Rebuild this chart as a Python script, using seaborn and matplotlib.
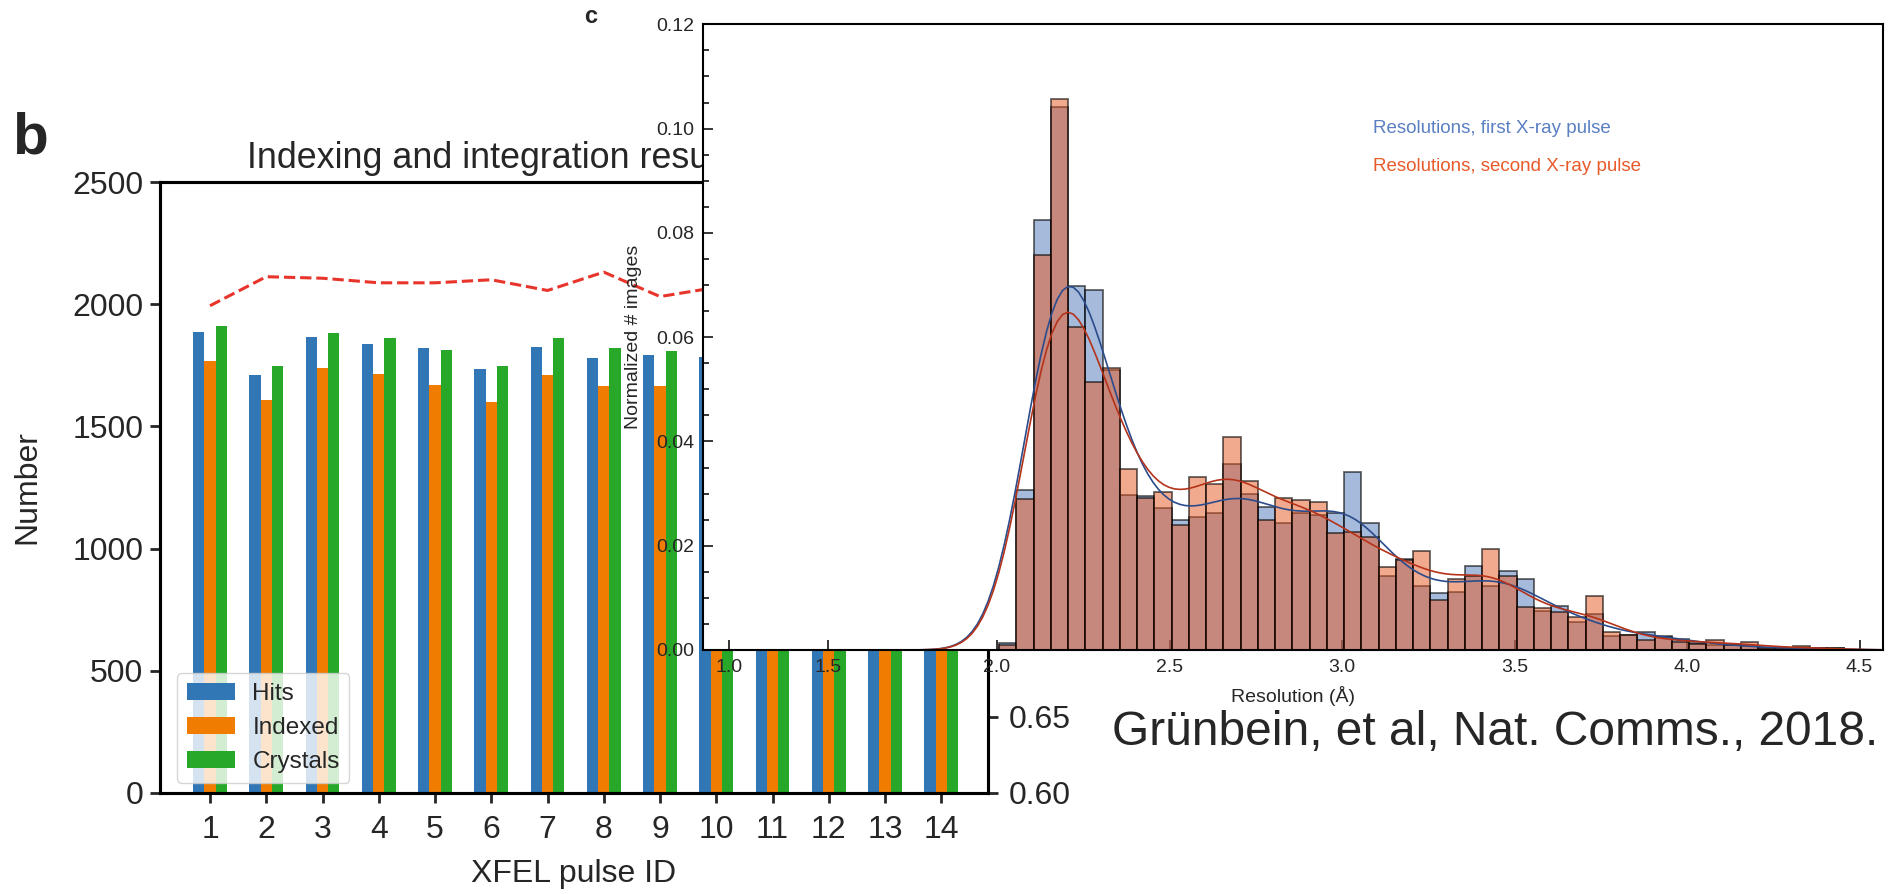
import numpy as np
import pandas as pd
import matplotlib
matplotlib.use("Agg")
import matplotlib.pyplot as plt
import seaborn as sns
from matplotlib.ticker import FixedLocator, FormatStrFormatter, MultipleLocator

# ---------------- data: panel b ----------------
pulse_ids = [1, 2, 3, 4, 5, 6, 7, 8, 9, 10, 11, 12, 13, 14]
hits = [1885, 1709, 1865, 1836, 1820, 1734, 1824, 1779, 1791, 1783, 1800, 1760, 1790, 1770]
indexed = [1767, 1607, 1738, 1714, 1668, 1599, 1709, 1664, 1664, 1660, 1680, 1640, 1670, 1650]
crystals = [1910, 1746, 1881, 1861, 1812, 1746, 1861, 1820, 1808, 1800, 1820, 1780, 1810, 1790]
index_rate = [0.919, 0.938, 0.937, 0.934, 0.934, 0.936, 0.929, 0.941, 0.925, 0.931,
              0.928, 0.935, 0.930, 0.933]
series_names = ["Hits", "Indexed", "Crystals"]
left_ticks = [0, 500, 1000, 1500, 2000, 2500]
right_ticks = [0.60, 0.65]

# ---------------- data: panel c ----------------
res_bin_centers = [2.031, 2.081, 2.131, 2.181, 2.231, 2.281, 2.331, 2.381, 2.431, 2.481,
                   2.531, 2.581, 2.631, 2.681, 2.731, 2.781, 2.831, 2.881, 2.931, 2.981,
                   3.031, 3.081, 3.131, 3.181, 3.231, 3.281, 3.331, 3.381, 3.431, 3.481,
                   3.531, 3.581, 3.631, 3.681, 3.731, 3.781, 3.831, 3.881, 3.931, 3.981,
                   4.031, 4.081, 4.131, 4.181, 4.231, 4.281, 4.331, 4.381, 4.431]
res_bin_width = 0.05
first_pulse = [0.0014, 0.0307, 0.0824, 0.1041, 0.0699, 0.0691, 0.0537, 0.0298, 0.0296, 0.0272,
               0.0250, 0.0256, 0.0262, 0.0357, 0.0300, 0.0275, 0.0243, 0.0262, 0.0259, 0.0262,
               0.0341, 0.0244, 0.0141, 0.0174, 0.0123, 0.0110, 0.0112, 0.0162, 0.0123, 0.0152,
               0.0136, 0.0074, 0.0084, 0.0054, 0.0070, 0.0026, 0.0029, 0.0034, 0.0027, 0.0022,
               0.0013, 0.0010, 0.0009, 0.0008, 0.0003, 0.0003, 0.0004, 0.0003, 0.0003]
second_pulse = [0.0010, 0.0290, 0.0757, 0.1057, 0.0620, 0.0514, 0.0540, 0.0347, 0.0291, 0.0303,
                0.0240, 0.0331, 0.0319, 0.0409, 0.0325, 0.0250, 0.0291, 0.0288, 0.0283, 0.0224,
                0.0227, 0.0217, 0.0160, 0.0172, 0.0190, 0.0096, 0.0136, 0.0141, 0.0194, 0.0141,
                0.0083, 0.0080, 0.0072, 0.0064, 0.0104, 0.0034, 0.0028, 0.0019, 0.0025, 0.0015,
                0.0012, 0.0019, 0.0010, 0.0016, 0.0003, 0.0003, 0.0008, 0.0003, 0.0003]
res_ticks = [1.0, 1.5, 2.0, 2.5, 3.0, 3.5, 4.0, 4.5]
norm_ticks = [0.00, 0.02, 0.04, 0.06, 0.08, 0.10, 0.12]

# ---------------- style ----------------
sns.set_style("ticks")
plt.rcParams["font.family"] = ["Liberation Sans", "DejaVu Sans"]

fig = plt.figure(figsize=(18.88, 8.94), dpi=100)
W, H = 1888.0, 894.0

# ---------------- panel b ----------------
ax_b = fig.add_axes([160 / W, 1 - 793 / H, (988 - 160) / W, (793 - 182) / H])
df_b = pd.DataFrame({
    "pulse": [str(p) for p in pulse_ids] * 3,
    "kind": [series_names[0]] * 14 + [series_names[1]] * 14 + [series_names[2]] * 14,
    "value": hits + indexed + crystals,
})
bar_colors = {"Hits": "#3277b5", "Indexed": "#f07d02", "Crystals": "#27a828"}
sns.barplot(data=df_b, x="pulse", y="value", hue="kind", hue_order=series_names,
            palette=bar_colors, width=0.6, saturation=1, errorbar=None,
            linewidth=0, ax=ax_b)
ax_b.set_xlim(-0.889, 13.83)
ax_b.set_ylim(0, 2500)
ax_b.set_yticks(left_ticks)
ax_b.set_ylabel("Number", fontsize=23)
ax_b.yaxis.set_label_coords(-0.1425, 0.5)
ax_b.set_xlabel("XFEL pulse ID", fontsize=23)
ax_b.xaxis.set_label_coords(0.5, -0.108)
t = ax_b.set_title("Indexing and integration results per XFEL pulse", fontsize=25.8,
                   pad=10, loc="left")
t.set_x((247 - 160) / 828)
ax_b.tick_params(axis="both", labelsize=23, width=2, length=7, direction="out")
ax_b.tick_params(axis="x", pad=9)
ax_b.tick_params(axis="y", pad=5)
for s in ax_b.spines.values():
    s.set_linewidth(2.2)
    s.set_color("black")
h, l = ax_b.get_legend_handles_labels()
ax_b.legend(h, l, loc="lower left", bbox_to_anchor=(17 / 828, 10 / 611),
            borderaxespad=0, fontsize=17.5, handletextpad=0.7)

ax_r = ax_b.twinx()
sns.lineplot(x=np.arange(len(pulse_ids)), y=index_rate, ax=ax_r, color="#e8352b",
             linestyle="--", linewidth=2.2)
ax_r.set_ylim(0.60, 1.00)
ax_r.set_yticks(right_ticks)
ax_r.yaxis.set_major_formatter(FormatStrFormatter("%.2f"))
ax_r.tick_params(axis="y", labelsize=23, width=2, length=7, direction="out", pad=8)
for s in ax_r.spines.values():
    s.set_linewidth(2.2)
    s.set_color("black")

# ---------------- panel c ----------------
ax_c = fig.add_axes([703 / W, 1 - 650 / H, (1883 - 703) / W, (650 - 24.3) / H])
ax_c.set_zorder(10)
ax_c.set_facecolor("white")

edges = [c - res_bin_width / 2 for c in res_bin_centers] + [res_bin_centers[-1] + res_bin_width / 2]
c_first = "#4f76b8"
c_second = "#e6561e"
edge_c = (0.0, 0.0, 0.0, 0.6)
sns.histplot(x=res_bin_centers, weights=first_pulse, bins=edges, stat="count", kde=True,
             kde_kws={"bw_adjust": 0.34, "cut": 3}, color=c_first, alpha=0.5,
             edgecolor=edge_c, linewidth=1.3, ax=ax_c)
ax_c.lines[-1].set_color("#2b4c8c")
ax_c.lines[-1].set_linewidth(1.2)
sns.histplot(x=res_bin_centers, weights=second_pulse, bins=edges, stat="count", kde=True,
             kde_kws={"bw_adjust": 0.34, "cut": 3}, color=c_second, alpha=0.5,
             edgecolor=edge_c, linewidth=1.3, ax=ax_c)
ax_c.lines[-1].set_color("#b5331a")
ax_c.lines[-1].set_linewidth(1.2)


def fwd(x):
    x = np.asarray(x, dtype=float)
    return np.where(x < 1.526, 198.6 * (x - 1.0) + 729.0, 345.0 * (x - 2.0) + 997.0)


def inv(p):
    p = np.asarray(p, dtype=float)
    return np.where(p < 833.47, (p - 729.0) / 198.6 + 1.0, (p - 997.0) / 345.0 + 2.0)


# set the (piecewise) axis scale after the histograms have been computed
ax_c.set_xscale("function", functions=(fwd, inv))

ax_c.set_xlim(0.869, 4.568)
ax_c.set_ylim(0, 0.12)
ax_c.xaxis.set_major_locator(FixedLocator(res_ticks))
ax_c.xaxis.set_minor_locator(FixedLocator([]))
ax_c.xaxis.set_major_formatter(FormatStrFormatter("%.1f"))
ax_c.yaxis.set_major_locator(FixedLocator(norm_ticks))
ax_c.yaxis.set_minor_locator(MultipleLocator(0.005))
ax_c.yaxis.set_major_formatter(FormatStrFormatter("%.2f"))
ax_c.tick_params(axis="both", which="major", direction="in", length=7, width=1.3,
                 labelsize=14, pad=6.5)
ax_c.tick_params(axis="y", which="minor", direction="in", length=4.5, width=1.3)
ax_c.set_xlabel("Resolution (Å)", fontsize=14)
ax_c.xaxis.set_label_coords(0.5, -0.058)
ax_c.set_ylabel("Normalized # images", fontsize=14)
ax_c.yaxis.set_label_coords(-0.052, 0.5)
for s in ax_c.spines.values():
    s.set_linewidth(1.5)
    s.set_color("black")

ax_c.text(0.568, 0.834, "Resolutions, first X-ray pulse", transform=ax_c.transAxes,
          color="#5a7fc2", fontsize=13.5, va="center", ha="left")
ax_c.text(0.568, 0.772, "Resolutions, second X-ray pulse", transform=ax_c.transAxes,
          color="#e85a2a", fontsize=13.5, va="center", ha="left")

# ---------------- panel letters and citation ----------------
fig.text(12 / W, 1 - 153 / H, "b", fontsize=42, fontweight="bold", va="baseline")
fig.text(584 / W, 1 - 23 / H, "c", fontsize=17, fontweight="bold", va="baseline")
fig.text(1112 / W, 1 - 745 / H, "Grünbein, et al, Nat. Comms., 2018.", fontsize=34.5,
         va="baseline", ha="left")

fig.savefig("out.png", dpi=100)
